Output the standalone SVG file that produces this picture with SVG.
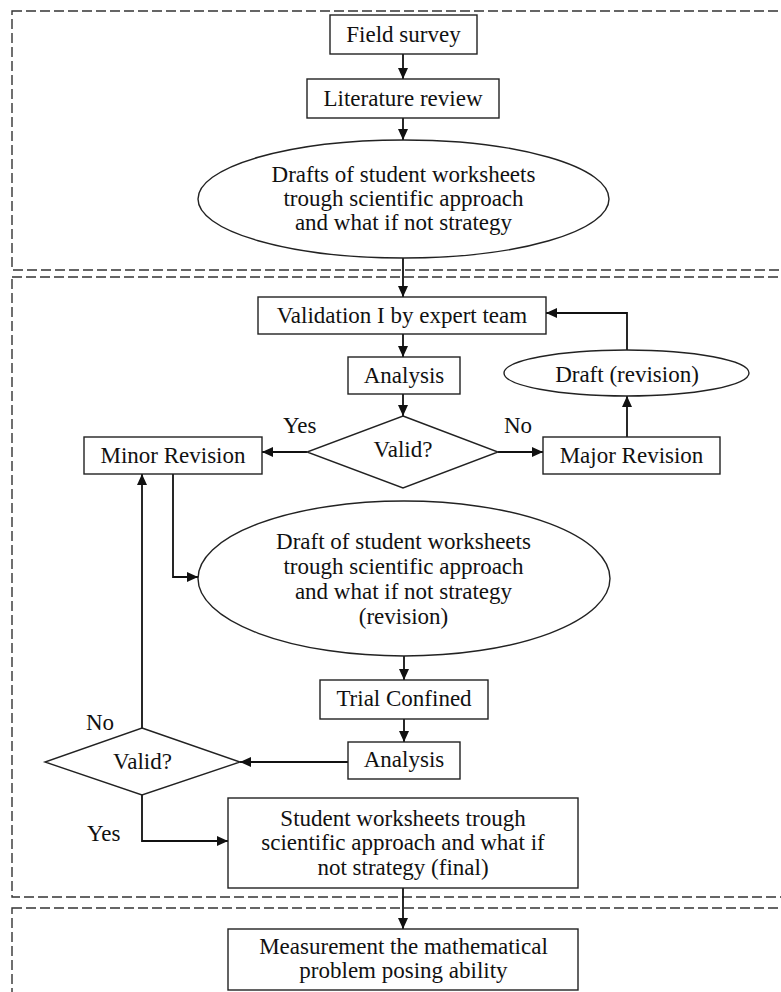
<svg xmlns="http://www.w3.org/2000/svg" width="781" height="992" viewBox="0 0 781 992">
<defs>
<style>
.frame{fill:none;stroke:#333;stroke-width:1.4;stroke-dasharray:10,4}
.box{fill:#fff;stroke:#222;stroke-width:1.4}
.ln{fill:none;stroke:#111;stroke-width:1.8}
.arr{fill:none;stroke:#111;stroke-width:1.8;marker-end:url(#ah)}
text{font-family:"Liberation Serif","Times New Roman",serif;font-size:23px;fill:#111}
.c{text-anchor:middle}
</style>
<marker id="ah" markerUnits="userSpaceOnUse" markerWidth="11" markerHeight="10" refX="11" refY="5" orient="auto">
<path d="M0,0 L11,5 L0,10 z" fill="#111"/>
</marker>
</defs>
<rect fill="#fff" x="0" y="0" width="781" height="992"/>
<g id="frames">
<rect class="frame" x="12" y="11" width="800" height="259"/>
<rect class="frame" x="12" y="277" width="800" height="620"/>
<rect class="frame" x="12" y="908" width="800" height="120"/>
</g>
<g id="connectors">
<line class="arr" x1="403" y1="54" x2="403" y2="79"/>
<line class="arr" x1="403" y1="118" x2="403" y2="140"/>
<line class="arr" x1="403" y1="258" x2="403" y2="297"/>
<line class="arr" x1="403" y1="334" x2="403" y2="357"/>
<line class="arr" x1="403" y1="394" x2="403" y2="416"/>
<line class="arr" x1="307" y1="452" x2="262" y2="452"/>
<line class="arr" x1="498" y1="452" x2="543" y2="452"/>
<line class="arr" x1="627" y1="437" x2="627" y2="396"/>
<polyline class="arr" points="627,350 627,313 546,313"/>
<polyline class="arr" points="173,474 173,577 198,577"/>
<line class="arr" x1="404" y1="656" x2="404" y2="680"/>
<line class="arr" x1="404" y1="719" x2="404" y2="742"/>
<line class="arr" x1="348" y1="762" x2="240" y2="762"/>
<line class="arr" x1="142" y1="728" x2="142" y2="474"/>
<polyline class="arr" points="142,795 142,841 228,841"/>
<line class="arr" x1="403" y1="888" x2="403" y2="929"/>
</g>
<g id="field-survey">
<rect class="box" x="330" y="15" width="147" height="39"/>
<text class="c" x="403.5" y="42">Field survey</text>
</g>
<g id="literature-review">
<rect class="box" x="307" y="79" width="192" height="39"/>
<text class="c" x="403" y="106">Literature review</text>
</g>
<g id="drafts">
<ellipse class="box" cx="403.5" cy="199" rx="205.5" ry="59"/>
<text class="c" x="403.5" y="182">Drafts of student worksheets</text>
<text class="c" x="403.5" y="206">trough scientific approach</text>
<text class="c" x="403.5" y="230">and what if not strategy</text>
</g>
<g id="validation">
<rect class="box" x="258" y="297" width="288" height="37"/>
<text class="c" x="402" y="323">Validation I by expert team</text>
</g>
<g id="analysis1">
<rect class="box" x="348" y="357" width="112" height="37"/>
<text class="c" x="404" y="383">Analysis</text>
</g>
<g id="valid1">
<polygon class="box" points="403,416 498,452 403,488 307,452"/>
<text class="c" x="403" y="457">Valid?</text>
<text x="283" y="433">Yes</text>
<text x="504" y="433">No</text>
</g>
<g id="minor-revision">
<rect class="box" x="84" y="437" width="178" height="37"/>
<text class="c" x="173" y="463">Minor Revision</text>
</g>
<g id="major-revision">
<rect class="box" x="543" y="437" width="177" height="37"/>
<text class="c" x="631.5" y="463">Major Revision</text>
</g>
<g id="draft-revision">
<ellipse class="box" cx="626.5" cy="373" rx="122.5" ry="23"/>
<text class="c" x="627" y="382">Draft (revision)</text>
</g>
<g id="draft-worksheets-revision">
<ellipse class="box" cx="404" cy="578.5" rx="206" ry="77.5"/>
<text class="c" x="403.5" y="549">Draft of student worksheets</text>
<text class="c" x="403.5" y="574">trough scientific approach</text>
<text class="c" x="403.5" y="599">and what if not strategy</text>
<text class="c" x="403.5" y="624">(revision)</text>
</g>
<g id="trial-confined">
<rect class="box" x="320" y="680" width="168" height="39"/>
<text class="c" x="404" y="706">Trial Confined</text>
</g>
<g id="analysis2">
<rect class="box" x="348" y="742" width="112" height="37"/>
<text class="c" x="404" y="767">Analysis</text>
</g>
<g id="valid2">
<polygon class="box" points="142,728 240,762 142,795 45,762"/>
<text class="c" x="142.5" y="769">Valid?</text>
<text x="86" y="730">No</text>
<text x="87" y="841">Yes</text>
</g>
<g id="final">
<rect class="box" x="228" y="798" width="350" height="90"/>
<text class="c" x="403" y="826">Student worksheets trough</text>
<text class="c" x="403" y="850">scientific approach and what if</text>
<text class="c" x="403" y="875">not strategy (final)</text>
</g>
<g id="measurement">
<rect class="box" x="228" y="929" width="350" height="61"/>
<text class="c" x="403.5" y="954">Measurement the mathematical</text>
<text class="c" x="403.5" y="978">problem posing ability</text>
</g>
</svg>
